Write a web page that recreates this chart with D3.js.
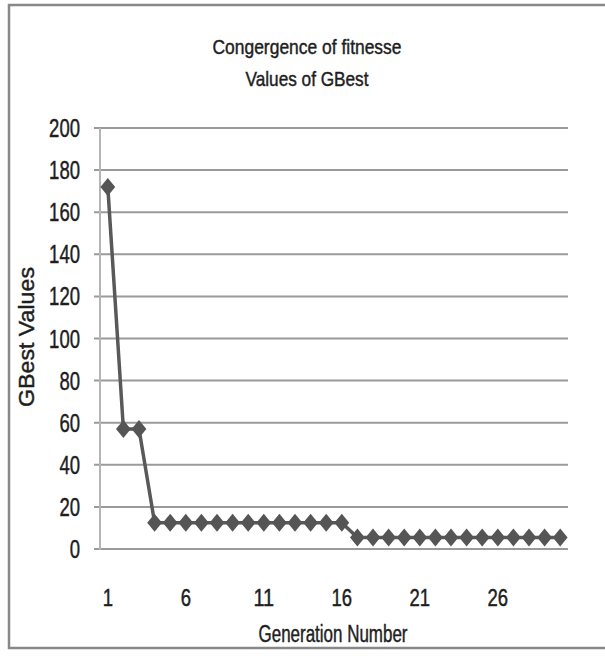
<!DOCTYPE html>
<html><head><meta charset="utf-8">
<script src="https://cdn.jsdelivr.net/npm/d3@7"></script>
<style>body{margin:0;background:#fff}svg{display:block}text{font-family:"Liberation Sans",Arial,sans-serif;fill:#1e1e1e;stroke:#1e1e1e;stroke-width:0.45px}</style>
</head><body><svg id="c" width="605" height="656"></svg>
<script>
const generations = d3.range(1, 31);
const gbest = [172,57,57,12.5,12.5,12.5,12.5,12.5,12.5,12.5,12.5,12.5,12.5,12.5,12.5,12.5,
  5.5,5.5,5.5,5.5,5.5,5.5,5.5,5.5,5.5,5.5,5.5,5.5,5.5,5.5];
const yTicks = [0,20,40,60,80,100,120,140,160,180,200];
const xTickLabels = [1,6,11,16,21,26];
const titleLines = ["Congergence of fitnesse","Values of GBest"];
const xTitle = "Generation Number";
const yTitle = "GBest Values";

const svg = d3.select("#c");
svg.append("rect").attr("x",9).attr("y",5).attr("width",620).attr("height",643)
  .attr("fill","#fff").attr("stroke","#888").attr("stroke-width",2.5);

const L=100,R=568,T=128,B=549;
const x = d3.scaleBand().domain(generations).range([L,R]);
const y = d3.scaleLinear().domain([0,200]).range([B,T]);
const cx = d=>x(d)+x.bandwidth()/2;
const digitW = 10.3;

// gridlines
svg.append("g").selectAll("line").data(yTicks).join("line")
  .attr("x1",L-6).attr("x2",R).attr("y1",d=>y(d)).attr("y2",d=>y(d))
  .attr("stroke","#9a9a9a").attr("stroke-width",2);
svg.append("line").attr("x1",L).attr("x2",L).attr("y1",T).attr("y2",B+1)
  .attr("stroke","#b4b4b4").attr("stroke-width",2);

// y tick labels
svg.append("g").selectAll("text").data(yTicks).join("text")
  .attr("x",80).attr("y",d=>y(d)+9).attr("text-anchor","end").attr("font-size",25)
  .attr("textLength",d=>String(d).length*digitW).attr("lengthAdjust","spacingAndGlyphs")
  .text(d=>d);

// x tick labels
svg.append("g").selectAll("text").data(xTickLabels).join("text")
  .attr("x",d=>cx(d)).attr("y",606).attr("text-anchor","middle").attr("font-size",23)
  .attr("textLength",d=>String(d).length*digitW).attr("lengthAdjust","spacingAndGlyphs")
  .text(d=>d);

// titles
const titleW = [189,123];
svg.append("g").selectAll("text").data(titleLines).join("text")
  .attr("x",307).attr("y",(d,i)=>54+i*32).attr("text-anchor","middle").attr("font-size",21)
  .attr("textLength",(d,i)=>titleW[i]).attr("lengthAdjust","spacingAndGlyphs")
  .text(d=>d);
svg.append("text").attr("x",333).attr("y",642).attr("text-anchor","middle").attr("font-size",23)
  .attr("textLength",149).attr("lengthAdjust","spacingAndGlyphs").text(xTitle);
svg.append("text").attr("transform","translate(34,337) rotate(-90)")
  .attr("text-anchor","middle").attr("font-size",22)
  .attr("textLength",140).attr("lengthAdjust","spacingAndGlyphs").text(yTitle);

// line + markers
const pts = generations.map((g,i)=>[g,gbest[i]]);
svg.append("path").datum(pts)
  .attr("fill","none").attr("stroke","#595959").attr("stroke-width",3.5)
  .attr("d",d3.line().x(d=>cx(d[0])).y(d=>y(d[1])));
svg.append("g").selectAll("path").data(pts).join("path")
  .attr("d","M0,-9L7.4,0L0,9L-7.4,0Z").attr("fill","#555")
  .attr("transform",d=>`translate(${cx(d[0])},${y(d[1])})`);
</script></body></html>
